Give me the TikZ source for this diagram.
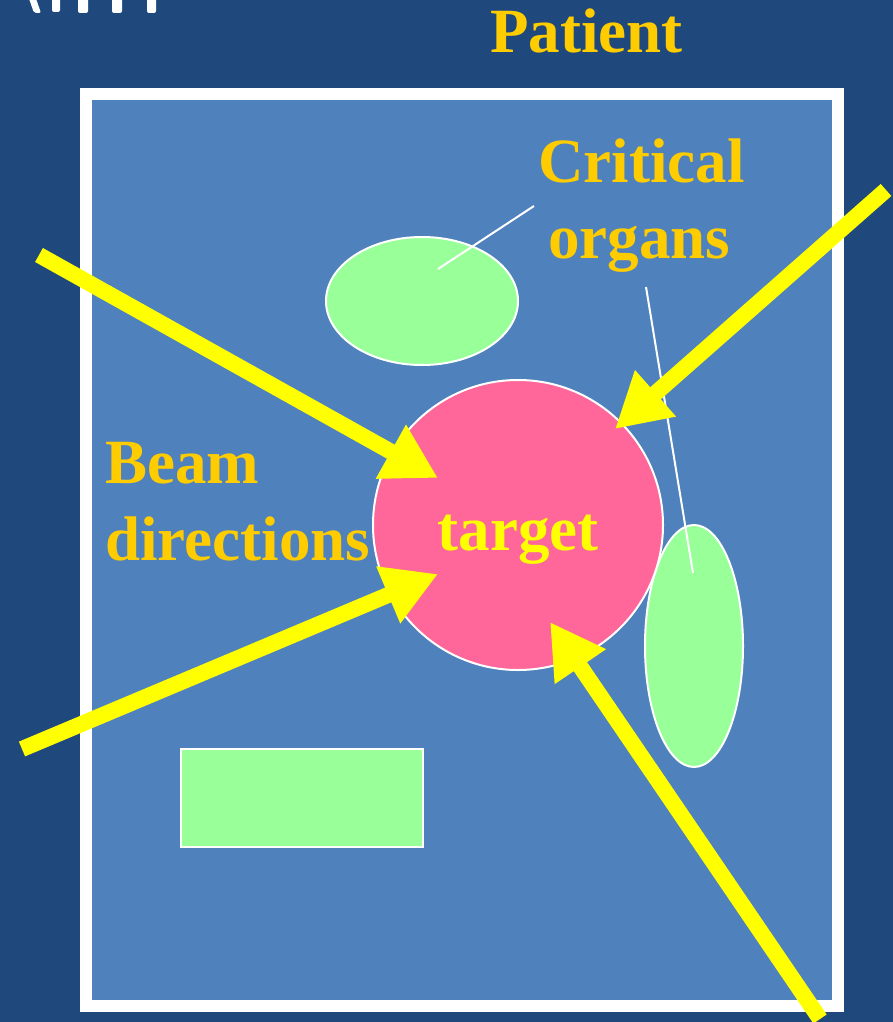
\documentclass[tikz,border=0pt]{standalone}
\usepackage{fontspec}
\setmainfont{Liberation Serif}
\usetikzlibrary{arrows.meta,shapes.geometric}
\definecolor{slidebg}{RGB}{31,73,125}
\definecolor{panel}{RGB}{79,129,189}
\definecolor{labelgold}{RGB}{255,204,0}
\definecolor{beamyellow}{RGB}{255,255,0}
\definecolor{organgreen}{RGB}{153,255,153}
\definecolor{targetpink}{RGB}{255,102,153}
\tikzset{
  lbl/.style={text=labelgold, font=\bfseries\fontsize{63}{76}\selectfont, inner sep=0pt, anchor=base west},
  organ/.style={fill=organgreen, draw=white, line width=2pt},
  beam/.style={draw=beamyellow, line width=16pt, line cap=butt,
    -{Triangle[length=54pt,width=58pt]}, shorten >=0pt},
  leader/.style={draw=white, line width=2pt},
  glyphbit/.style={fill=white, rounded corners=2pt}
}
\begin{document}
\begin{tikzpicture}[x=1pt,y=-1pt]
  % slide background and page extent
  \fill[slidebg] (0,0) rectangle (893,1022);
  \useasboundingbox (0,0) rectangle (893,1022);

  % remains of the slide title above the top edge
  \begin{scope}
    \clip (0,0) rectangle (200,30);
    \fill[glyphbit] (26,-10) -- (33,-10) -- (41,13) -- (34,13) -- cycle;
    \fill[glyphbit] (52,-10) rectangle (60,12);
    \fill[glyphbit] (78,-10) rectangle (88,13);
    \fill[glyphbit] (112,-10) rectangle (122,13);
    \fill[glyphbit] (147,-10) rectangle (156,13);
  \end{scope}

  % patient body outline
  \node[draw=white, line width=12pt, fill=panel, minimum width=752pt, minimum height=912pt,
        inner sep=0pt, outer sep=0pt, anchor=north west] (body) at (86,94) {};

  \node[lbl] (patient) at (490,53) {Patient};

  % critical organs
  \node[organ, ellipse, minimum width=192pt, minimum height=128pt, inner sep=0pt] (organA) at (422,301) {};
  \node[organ, ellipse, minimum width=98pt, minimum height=242pt, inner sep=0pt] (organB) at (694,646) {};
  \node[organ, rectangle, minimum width=242pt, minimum height=98pt, inner sep=0pt, outer sep=0pt, anchor=north west] (organC) at (181,749) {};

  % target volume
  \node[circle, fill=targetpink, draw=white, line width=2pt, minimum size=290pt, inner sep=0pt] (target) at (518,525) {};
  \node[lbl, text=beamyellow, anchor=base] (targetlbl) at (518,550) {target};

  % labels
  \node[lbl] (crit1) at (538,182) {Critical};
  \node[lbl] (crit2) at (548,258) {organs};
  \node[lbl] (beam1) at (105,483) {Beam};
  \node[lbl] (beam2) at (105,560) {directions};

  % leader lines from the label to the organs
  \coordinate (leadA) at (534,206);
  \coordinate (leadAend) at (438,269);
  \coordinate (leadB) at (646,287);
  \coordinate (leadBend) at (693,573);
  \draw[leader] (leadA) -- (leadAend);
  \draw[leader] (leadB) -- (leadBend);

  % beam directions
  \coordinate (srcA) at (39,255);
  \coordinate (tipA) at (438,478);
  \coordinate (srcB) at (886,190);
  \coordinate (tipB) at (615,429);
  \coordinate (srcC) at (22,749);
  \coordinate (tipC) at (438,574);
  \coordinate (srcD) at (820,1019);
  \coordinate (tipD) at (550,622);
  \draw[beam] (srcA) -- (tipA);
  \draw[beam] (srcB) -- (tipB);
  \draw[beam] (srcC) -- (tipC);
  \draw[beam] (srcD) -- (tipD);
\end{tikzpicture}
\end{document}
